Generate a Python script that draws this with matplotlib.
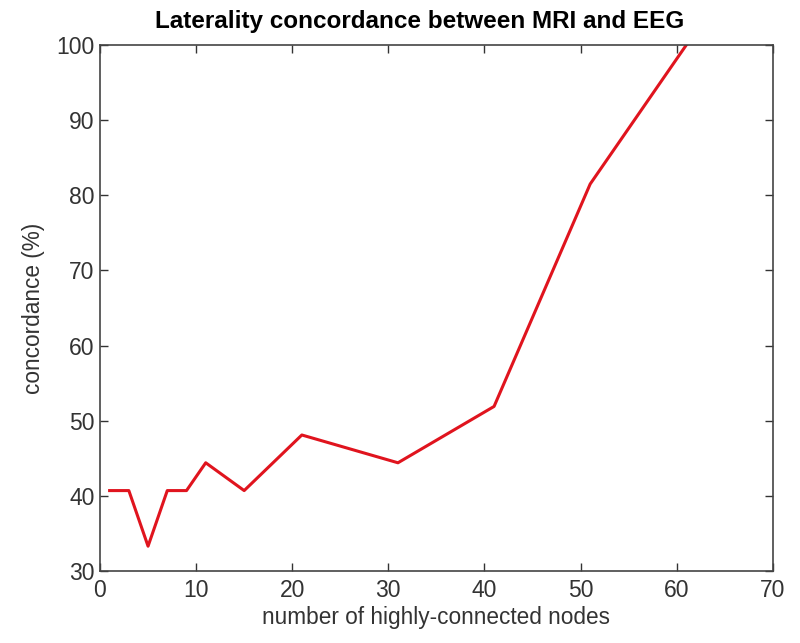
import matplotlib
matplotlib.use("Agg")
import matplotlib.pyplot as plt

plt.rcParams['font.family'] = ['Liberation Sans', 'DejaVu Sans']

# number of highly-connected nodes vs laterality concordance (%)
nodes = [1, 3, 5, 7, 9, 11, 15, 21, 31, 41, 51, 61]
concordance = [40.7, 40.7, 33.3, 40.7, 40.7, 44.4, 40.7, 48.1, 44.4, 51.9, 81.5, 100.0]

fig = plt.figure(figsize=(8, 6.43), dpi=100)
ax = fig.add_axes([0.125, 0.112, 0.841, 0.818])

ax.plot(nodes, concordance, color='#e0141e', linewidth=2.2)

ax.set_xlim(0, 70)
ax.set_ylim(30, 100)
ax.set_xticks(range(0, 71, 10))
ax.set_yticks(range(30, 101, 10))
ax.tick_params(axis='both', direction='in', length=6, width=1, labelsize=16.5,
               top=True, right=True, colors='#333333')
ax.tick_params(axis='x', pad=6)
ax.tick_params(axis='y', pad=4)
for s in ax.spines.values():
    s.set_linewidth(1.2)
    s.set_color('#444444')

ax.set_xlabel('number of highly-connected nodes', fontsize=16.3, color='#333333', labelpad=3)
ax.set_ylabel('concordance (%)', fontsize=16.3, color='#333333', labelpad=8)
ax.set_title('Laterality concordance between MRI and EEG', fontsize=17.5, fontweight='bold',
             x=0.475, pad=12)

fig.savefig('out.png', dpi=100)
